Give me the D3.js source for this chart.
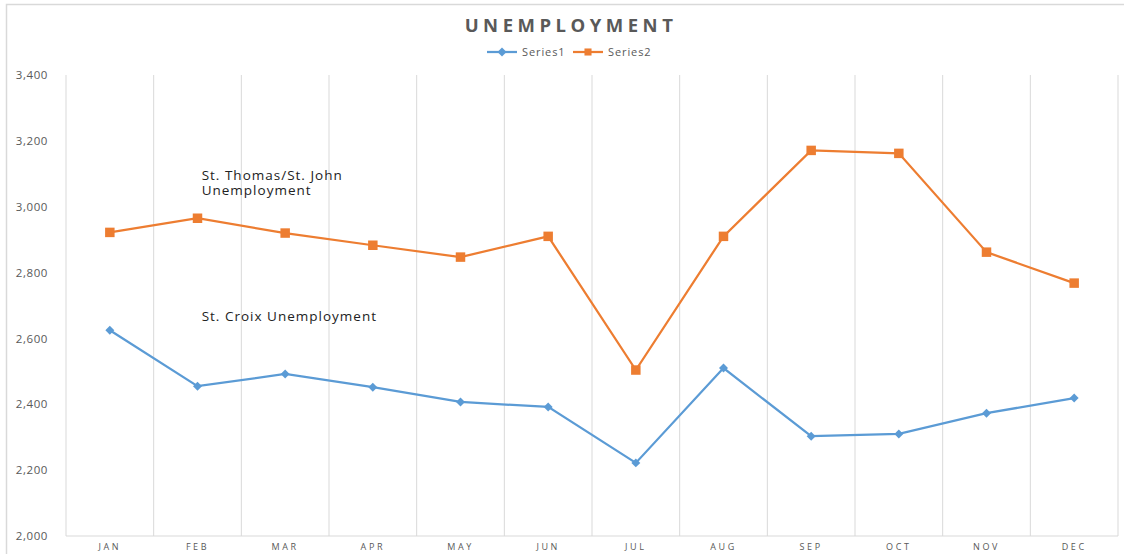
<!DOCTYPE html>
<html><head><meta charset="utf-8">
<script src="https://cdn.jsdelivr.net/npm/d3@7"></script>
<style>body{margin:0;background:#fff}svg{display:block}</style>
</head><body>
<svg id="c" width="1124" height="554"></svg>
<script>
const months = ["JAN","FEB","MAR","APR","MAY","JUN","JUL","AUG","SEP","OCT","NOV","DEC"];
const series1 = [2625,2455,2492,2452,2407,2392,2222,2510,2303,2310,2373,2419];
const series2 = [2922,2965,2920,2883,2847,2910,2504,2910,3171,3162,2862,2768];
const yTicks = [2000,2200,2400,2600,2800,3000,3200,3400];
const seriesNames = ["Series1","Series2"];
const annotations = [
  {text:"St. Thomas/St. John", month:"FEB", value:3082},
  {text:"Unemployment", month:"FEB", value:3036},
  {text:"St. Croix Unemployment", month:"FEB", value:2652}
];

const svg = d3.select("#c");
const font = "'Open Sans', 'Liberation Sans', sans-serif";
const grid = "#d9d9d9", txt = "#595959";
const c1 = "#5B9BD5", c2 = "#ED7D31";
const L=66, R=1118, T=75, B=536;

svg.append("rect").attr("x",6.5).attr("y",4.5).attr("width",1140).attr("height",600)
  .attr("fill","#fff").attr("stroke",grid).attr("stroke-width",1.5);

const x = d3.scaleBand().domain(months).range([L,R]);
const y = d3.scaleLinear().domain([2000,3400]).range([B,T]);
const cx = m => x(m)+x.bandwidth()/2;

// vertical category separators
const seps = months.map(m=>x(m)).concat([R]);
svg.append("g").selectAll("line").data(seps).join("line")
  .attr("x1",d=>d).attr("x2",d=>d).attr("y1",T).attr("y2",B)
  .attr("stroke",grid).attr("stroke-width",1);
svg.append("line").attr("x1",L).attr("x2",R).attr("y1",B).attr("y2",B).attr("stroke",grid).attr("stroke-width",1);

// y axis labels
const ya = svg.append("g").attr("transform",`translate(${L-15},0)`)
  .call(d3.axisLeft(y).tickValues(yTicks).tickSize(0).tickFormat(d3.format(",")));
ya.select(".domain").remove();
ya.selectAll("text").attr("font-family",font).attr("font-size",11.5).attr("letter-spacing","0.6px").attr("fill",txt);

// x axis labels
const xa = svg.append("g").attr("transform",`translate(0,${B+5})`)
  .call(d3.axisBottom(x).tickSize(0));
xa.select(".domain").remove();
xa.selectAll("text").attr("font-family",font).attr("font-size",9).attr("fill",txt).attr("letter-spacing","2.6px");

const line = d3.line().x((d,i)=>cx(months[i])).y(d=>y(d));
svg.append("path").datum(series2).attr("d",line).attr("fill","none").attr("stroke",c2).attr("stroke-width",2.25);
svg.append("path").datum(series1).attr("d",line).attr("fill","none").attr("stroke",c1).attr("stroke-width",2.25);

const sq = d3.symbol().type(d3.symbolSquare).size(90);
const dm = d3.symbol().type(d3.symbolSquare).size(40);
svg.append("g").selectAll("path").data(series2).join("path")
  .attr("d",sq).attr("transform",(d,i)=>`translate(${cx(months[i])},${y(d)})`).attr("fill",c2);
svg.append("g").selectAll("path").data(series1).join("path")
  .attr("d",dm).attr("transform",(d,i)=>`translate(${cx(months[i])},${y(d)}) rotate(45)`).attr("fill",c1);

// title
svg.append("text").attr("x",571).attr("y",32).attr("text-anchor","middle")
  .attr("font-family",font).attr("font-weight","bold").attr("font-size",18.5)
  .attr("letter-spacing","4.5px").attr("fill",txt).text("UNEMPLOYMENT");

// legend
const lg = svg.append("g").attr("transform","translate(0,52)");
[[487,c1,dm,45,seriesNames[0]],[573,c2,d3.symbol().type(d3.symbolSquare).size(50),0,seriesNames[1]]].forEach(([lx,col,sym,rot,name])=>{
  lg.append("line").attr("x1",lx).attr("x2",lx+30).attr("y1",0).attr("y2",0).attr("stroke",col).attr("stroke-width",2.25);
  lg.append("path").attr("d",sym).attr("transform",`translate(${lx+15},0) rotate(${rot})`).attr("fill",col);
  lg.append("text").attr("x",lx+35).attr("y",4).attr("font-family",font).attr("font-size",11).attr("letter-spacing","0.9px").attr("fill",txt).text(name);
});

// annotations
svg.append("g").selectAll("text").data(annotations).join("text")
  .attr("x",d=>x(d.month)+48).attr("y",d=>y(d.value))
  .attr("font-family",font).attr("font-size",13.5).attr("letter-spacing","1px").attr("fill","#222")
  .text(d=>d.text);
</script>
</body></html>
